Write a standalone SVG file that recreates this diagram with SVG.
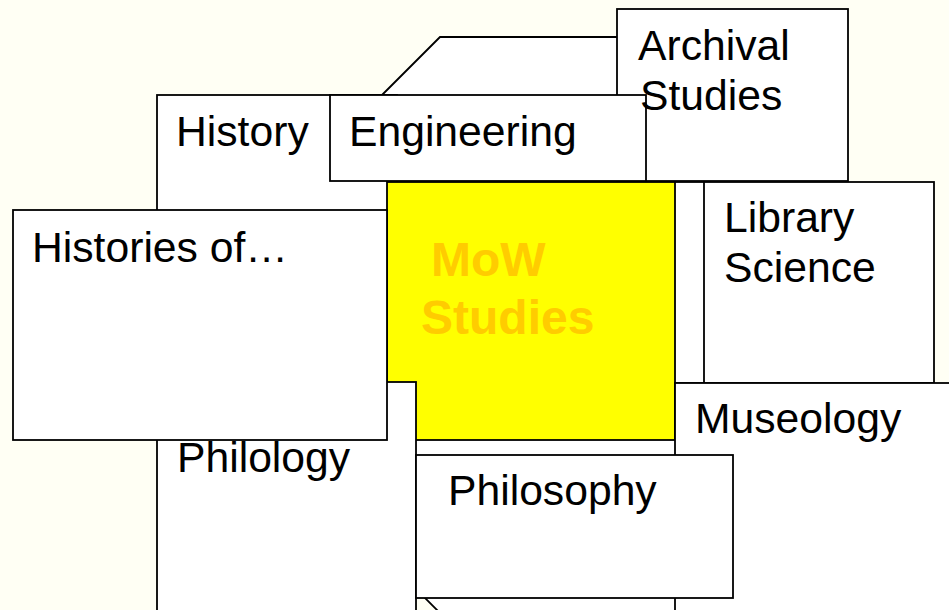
<svg xmlns="http://www.w3.org/2000/svg" width="949" height="610" viewBox="0 0 949 610">
<style>
.box{fill:#FFFFFF;stroke:#000000;stroke-width:1.8}
.core{fill:#FFFF00;stroke:#000000;stroke-width:1.8}
.t{font-family:"Liberation Sans",Arial,sans-serif;font-size:42.67px;fill:#000000}
.c{font-family:"Liberation Sans",Arial,sans-serif;font-size:48px;font-weight:bold;fill:#FFCC00}
</style>
<rect x="0" y="0" width="949" height="610" fill="#FFFFF4"/>
<g id="hidden-top"><polygon class="box" points="370,107 440,37 700,37 700,150 370,150"/></g>
<g id="archival"><rect class="box" x="617" y="9" width="231" height="172"/></g>
<g id="history"><rect class="box" x="157" y="95" width="240" height="160"/></g>
<g id="engineering"><rect class="box" x="330" y="95" width="316" height="86"/></g>
<g id="hidden-strip"><rect class="box" x="660" y="182" width="50" height="201"/></g>
<g id="hidden-bottom"><polygon class="box" points="405,430 700,430 700,640 467,640 405,578"/></g>
<g id="mow"><rect class="core" x="387" y="182" width="288" height="258"/></g>
<g id="library"><rect class="box" x="704" y="182" width="230" height="201"/></g>
<g id="museology"><rect class="box" x="675" y="383" width="290" height="240"/></g>
<g id="philology"><rect class="box" x="157" y="382" width="259" height="240"/></g>
<g id="histories"><rect class="box" x="13" y="210" width="374" height="230"/></g>
<g id="philosophy"><rect class="box" x="416" y="455" width="317" height="143"/></g>
<g id="connectors"></g>
<g id="labels">
<text class="t" x="638" y="60">Archival</text>
<text class="t" x="640" y="110">Studies</text>
<text class="t" x="176" y="146">History</text>
<text class="t" x="349" y="146">Engineering</text>
<text class="t" x="32" y="262">Histories of…</text>
<text class="c" x="431" y="276">MoW</text>
<text class="c" x="421" y="334">Studies</text>
<text class="t" x="724" y="232">Library</text>
<text class="t" x="724" y="282">Science</text>
<text class="t" x="695" y="433">Museology</text>
<text class="t" x="177" y="472">Philology</text>
<text class="t" x="448" y="505">Philosophy</text>
</g>
</svg>
